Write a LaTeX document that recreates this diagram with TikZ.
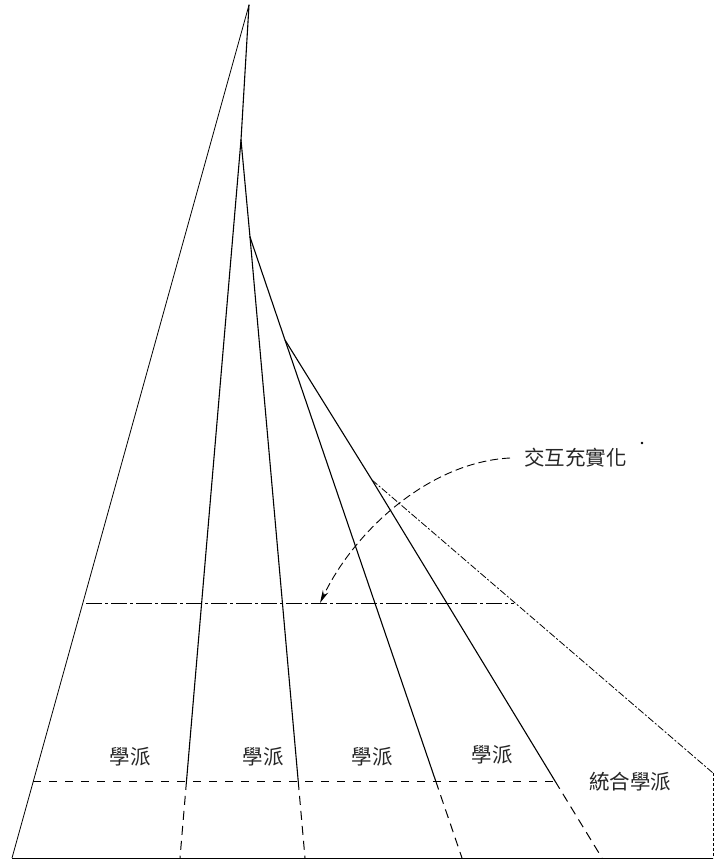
\documentclass[tikz,border=0pt]{standalone}
\usepackage{fontspec}
\newfontfamily\cjk{Noto Sans CJK TC}
\usetikzlibrary{arrows.meta}
\begin{document}
\begin{tikzpicture}[x=1pt,y=-1pt,
  solidline/.style={line width=1.1pt, line cap=round},
  thinline/.style={line width=0.8pt},
  lowdash/.style={line width=1pt, dash pattern=on 9pt off 6pt},
  rowdash/.style={line width=1pt, dash pattern=on 8pt off 8pt},
  midline/.style={line width=0.9pt, dash pattern=on 16pt off 3pt on 3pt off 3pt},
  outerline/.style={line width=0.8pt, dash pattern=on 7pt off 2pt on 2pt off 2pt},
  sideline/.style={line width=0.8pt, dash pattern=on 3pt off 2pt},
  arrowcurve/.style={line width=0.9pt, dash pattern=on 8pt off 4pt},
  lbl/.style={font=\cjk\fontsize{20.5}{21}\selectfont, inner sep=0pt, text=black!85}]
\useasboundingbox (0,0) rectangle (719,862);
% key points
\coordinate (P0) at (249,5);
\coordinate (J1) at (241,140);
\coordinate (J2) at (250,237);
\coordinate (J3) at (285,340);
\coordinate (J4) at (372,480);
\coordinate (R1) at (713,773);
\coordinate (R2) at (713,858);
\coordinate (Lb) at (12,858);
\coordinate (Ab) at (180,858);
\coordinate (Bb) at (305,858);
\coordinate (Cb) at (462,858);
\coordinate (Db) at (602,858);
\coordinate (Am) at (186.5,781);
\coordinate (Bm) at (298.2,781);
\coordinate (Cm) at (435.7,781);
\coordinate (Dm) at (555,781);
\coordinate (Dl) at (33,781);
\coordinate (Hl) at (86,603);
\coordinate (Hr) at (514,603);
\coordinate (As) at (510,458);
\coordinate (At) at (320,603);
% outline
\draw[thinline] (P0) -- (Lb);
\draw[thinline] (Lb) -- (R2);
\draw[solidline] (P0) -- (J1) -- (J2);
\draw[solidline] (J1) -- (Am);
\draw[lowdash] (Am) -- (Ab);
\draw[solidline] (J2) -- (Bm);
\draw[lowdash] (Bm) -- (Bb);
\draw[solidline] (J2) -- (J3) -- (Cm);
\draw[lowdash] (Cm) -- (Cb);
\draw[solidline] (J3) -- (J4) -- (Dm);
\draw[lowdash] (Dm) -- (Db);
\draw[outerline] (J4) -- (R1);
\draw[sideline] (R1) -- (R2);
% horizontal lines
\draw[midline] (Hl) -- (Hr);
\draw[rowdash] (Dl) -- (Dm);
% labels
\node[lbl] (s1) at (130,757) {學派};
\node[lbl] (s2) at (263,757) {學派};
\node[lbl] (s3) at (372,757) {學派};
\node[lbl] (s4) at (492,755) {學派};
\node[lbl] (s5) at (630,782) {統合學派};
\node[lbl, anchor=west] (t1) at (524,458) {交互充實化};
\fill (642,443) circle (1.3pt);
% curved arrow
\draw[arrowcurve, -{Stealth[length=13pt,width=6pt]}] (As) .. controls (430,462) and (355,530) .. (At);
\end{tikzpicture}
\end{document}
